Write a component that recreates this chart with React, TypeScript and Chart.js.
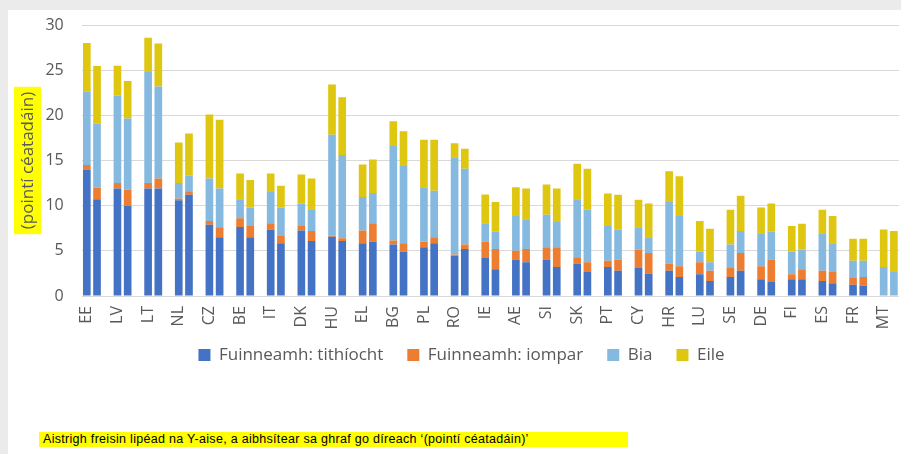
import React, { useEffect, useRef } from "react";
import { Chart, registerables } from "chart.js";

Chart.register(...registerables);

const countries = ["EE", "LV", "LT", "NL", "CZ", "BE", "IT", "DK", "HU", "EL", "BG", "PL", "RO", "IE", "AE", "SI", "SK", "PT", "CY", "HR", "LU", "SE", "DE", "FI", "ES", "FR", "MT"];

// first bar of each pair
const housing1 = [14.0, 11.9, 11.9, 10.6, 7.9, 7.65, 7.35, 7.25, 6.55, 5.85, 5.7, 5.4, 4.45, 4.2, 4.05, 4.05, 3.6, 3.2, 3.1, 2.8, 2.4, 2.1, 1.85, 1.85, 1.65, 1.25, 0];
const transport1 = [0.5, 0.6, 0.6, 0.2, 0.4, 0.95, 0.7, 0.5, 0.15, 1.4, 0.45, 0.6, 0.15, 1.8, 0.95, 1.35, 0.7, 0.7, 2.05, 0.8, 1.35, 1.0, 1.45, 0.55, 1.15, 0.75, 0];
const food1 = [8.1, 9.7, 12.3, 1.7, 4.7, 2.1, 3.45, 2.5, 11.15, 3.7, 10.45, 6.05, 10.75, 2.05, 3.85, 3.6, 6.4, 3.85, 2.45, 6.8, 1.15, 2.6, 3.65, 2.5, 4.15, 1.9, 3.2];
const other1 = [5.4, 3.3, 3.8, 4.5, 7.1, 2.85, 2.05, 3.2, 5.55, 3.6, 2.75, 5.25, 1.55, 3.2, 3.2, 3.35, 3.95, 3.6, 3.05, 3.4, 3.4, 3.85, 2.85, 2.85, 2.6, 2.45, 4.15];

// second bar of each pair
const housing2 = [10.7, 10.0, 11.9, 11.2, 6.5, 6.5, 5.85, 6.1, 6.1, 6.0, 4.9, 5.85, 5.2, 2.95, 3.75, 3.2, 2.65, 2.8, 2.5, 2.1, 1.65, 2.8, 1.55, 1.85, 1.4, 1.15, 0];
const transport2 = [1.3, 1.75, 1.1, 0.4, 1.1, 1.25, 0.8, 1.1, 0.3, 2.05, 0.95, 0.65, 0.5, 2.25, 1.45, 2.2, 1.1, 1.25, 2.25, 1.2, 1.15, 1.95, 2.5, 1.1, 1.25, 0.95, 0];
const food2 = [7.1, 7.9, 10.2, 1.7, 4.3, 2.05, 3.15, 2.4, 9.2, 3.35, 8.55, 5.15, 8.4, 1.9, 3.3, 2.8, 5.8, 3.3, 1.75, 5.55, 0.95, 2.45, 3.05, 2.2, 3.2, 1.8, 2.65];
const other2 = [6.35, 4.15, 4.75, 4.7, 7.6, 3.05, 2.4, 3.4, 6.4, 3.7, 3.85, 5.65, 2.2, 3.3, 3.4, 3.7, 4.55, 3.85, 3.75, 4.4, 3.7, 3.9, 3.15, 2.85, 3.0, 2.45, 4.55];

const seriesNames = ["Fuinneamh: tithíocht", "Fuinneamh: iompar", "Bia", "Eile"];
const seriesColors = ["#4472C4", "#ED7D31", "#86B9E0", "#DEC611"];

const yTitle = "(pointí céatadáin)";
const noteText = "Aistrigh freisin lipéad na Y-aise, a aibhsítear sa ghraf go díreach ‘(pointí céatadáin)’";

const FONT = '"Open Sans", "Liberation Sans", sans-serif';

// three slots per country: first bar, second bar, gap
function toSlots(a: number[], b: number[]) {
  const out: (number | null)[] = [];
  countries.forEach((_, i) => {
    out.push(a[i]);
    out.push(b[i]);
    if (i < countries.length - 1) out.push(null);
  });
  return out;
}
const slotLabels: string[] = countries.flatMap((c, i) => (i < countries.length - 1 ? [c, "", ""] : [c, ""]));

const yTitlePlugin = {
  id: "yTitleHighlight",
  afterLayout(chart: any) {
    // lift the legend closer to the axis labels
    if (chart.legend) {
      chart.legend.top -= 13.5;
      chart.legend.bottom -= 13.5;
    }
  },
  afterDraw(chart: any) {
    const ctx = chart.ctx;
    const { top, bottom } = chart.chartArea;
    const cy = (top + bottom) / 2;
    ctx.save();
    ctx.font = `17px ${FONT}`;
    const w = ctx.measureText(yTitle).width;
    ctx.translate(19.5, cy);
    ctx.rotate(-Math.PI / 2);
    ctx.fillStyle = "#FFFF00";
    ctx.fillRect(-w / 2 - 5, -13.5, w + 10, 27);
    ctx.fillStyle = "#595959";
    ctx.textAlign = "center";
    ctx.textBaseline = "middle";
    ctx.fillText(yTitle, 0, 1);
    ctx.restore();
  },
};

export default function App() {
  const ref = useRef<HTMLCanvasElement | null>(null);

  useEffect(() => {
    if (!ref.current) return;
    const seriesData = [
      toSlots(housing1, housing2),
      toSlots(transport1, transport2),
      toSlots(food1, food2),
      toSlots(other1, other2),
    ];
    const chart = new Chart(ref.current, {
      type: "bar",
      data: {
        labels: slotLabels,
        datasets: seriesNames.map((name, k) => ({
          label: name,
          data: seriesData[k],
          backgroundColor: seriesColors[k],
          barPercentage: 0.75,
          categoryPercentage: 1,
        })),
      },
      options: {
        animation: false,
        responsive: false,
        maintainAspectRatio: false,
        layout: { padding: { top: 15, right: 2, left: 16, bottom: 0 } },
        scales: {
          x: {
            stacked: true,
            grid: { display: false, drawTicks: false },
            border: { display: false },
            ticks: {
              autoSkip: false,
              maxRotation: 90,
              minRotation: 90,
              padding: 10,
              color: "#595959",
              font: { family: FONT, size: 16 },
            },
            afterFit: (s: any) => {
              s.height = 40;
              s.paddingLeft = 0;
              s.paddingRight = 0;
            },
          },
          y: {
            stacked: true,
            min: 0,
            max: 30,
            ticks: { stepSize: 5, padding: 18, color: "#595959", font: { family: FONT, size: 16 } },
            grid: { color: "#D9D9D9", drawTicks: false },
            border: { display: false },
            afterFit: (s: any) => {
              s.width = 57.7;
              s.paddingTop = 0;
              s.paddingBottom = 0;
            },
          },
        },
        plugins: {
          legend: {
            position: "bottom",
            labels: {
              boxWidth: 12,
              boxHeight: 12,
              padding: 24,
              color: "#595959",
              font: { family: FONT, size: 17 },
            },
          },
          tooltip: { enabled: false },
        },
      },
      plugins: [yTitlePlugin],
    } as any);
    return () => chart.destroy();
  }, []);

  return (
    <div style={{ position: "fixed", left: 0, top: 0, width: 901, height: 454, background: "#EBEBEB", overflow: "hidden" }}>
      <div style={{ position: "absolute", left: 8, top: 10, width: 893, height: 444, background: "#FFFFFF" }}>
        <canvas ref={ref} width={893} height={377} style={{ position: "absolute", left: 0, top: 0, width: 893, height: 377 }} />
      </div>
      <div
        style={{
          position: "absolute",
          left: 39,
          top: 432,
          width: 589,
          height: 15,
          background: "#FFFF00",
          color: "#000",
          fontFamily: '"Liberation Sans", Arial, sans-serif',
          fontSize: 12.5,
          lineHeight: "15px",
          paddingLeft: 4,
          boxSizing: "border-box",
          whiteSpace: "nowrap",
          letterSpacing: "0.3px",
        }}
      >
        {noteText}
      </div>
    </div>
  );
}
